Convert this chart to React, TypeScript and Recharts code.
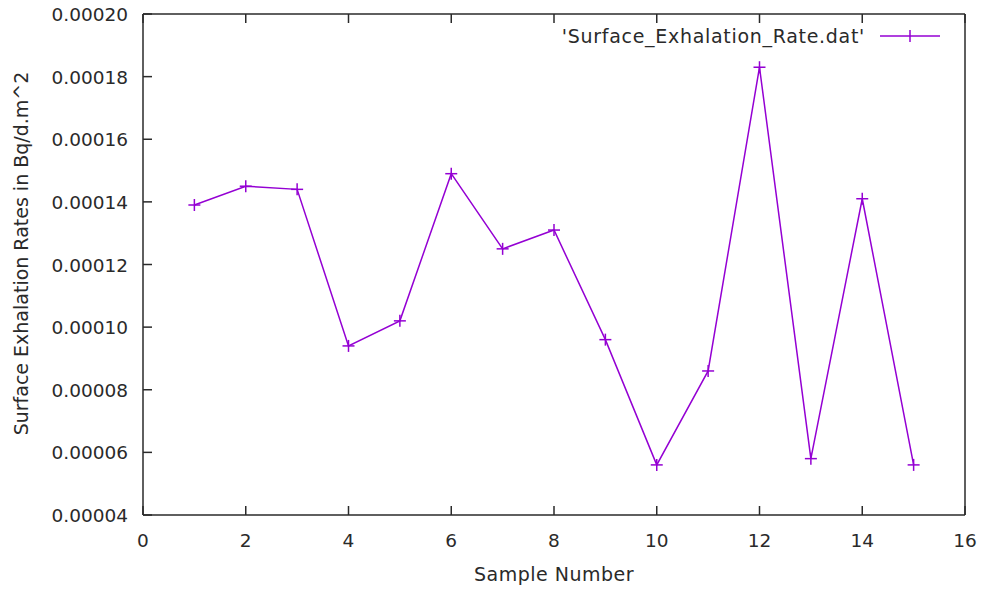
import React from 'react';
import { LineChart, Line, XAxis, YAxis } from 'recharts';

const samples = [1, 2, 3, 4, 5, 6, 7, 8, 9, 10, 11, 12, 13, 14, 15];
const rates = [
  0.000139, 0.000145, 0.000144, 0.000094, 0.000102, 0.000149, 0.000125, 0.000131,
  0.000096, 0.000056, 0.000086, 0.000183, 0.000058, 0.000141, 0.000056,
];
const xTicks = [0, 2, 4, 6, 8, 10, 12, 14, 16];
const yTicks = [0.00004, 0.00006, 0.00008, 0.0001, 0.00012, 0.00014, 0.00016, 0.00018, 0.0002];

const seriesName = "'Surface_Exhalation_Rate.dat'";
const PURPLE = '#9400D3';
const INK = '#2a2a2a';
const FONT = 'DejaVu Sans, sans-serif';
const TICK_FS = 18.5;
const LABEL_FS = 19;
const TICK_LEN = 9;

const data = samples.map((s, i) => ({ sample: s, rate: rates[i] }));

const PlusDot = (props: any) => {
  const { cx, cy } = props;
  if (cx == null || cy == null) return null;
  return (
    <g stroke={PURPLE} strokeWidth={1.5}>
      <line x1={cx - 6} y1={cy} x2={cx + 6} y2={cy} />
      <line x1={cx} y1={cy - 6} x2={cx} y2={cy + 6} />
    </g>
  );
};

// bottom axis: label + inward tick
const BottomTick = (props: any) => {
  const { x, y, payload } = props;
  const base = y - 25;
  return (
    <g>
      <line x1={x} y1={base} x2={x} y2={base - TICK_LEN} stroke={INK} strokeWidth={1.5} />
      <text x={x} y={y} dy={7} textAnchor="middle" fill={INK} fontSize={TICK_FS} fontFamily={FONT}>
        {payload.value}
      </text>
    </g>
  );
};

const TopTick = (props: any) => {
  const { x, y } = props;
  return <line x1={x} y1={y} x2={x} y2={y + TICK_LEN} stroke={INK} strokeWidth={1.5} />;
};

const LeftTick = (props: any) => {
  const { x, y, payload } = props;
  const base = x + 15;
  return (
    <g>
      <line x1={base} y1={y} x2={base + TICK_LEN} y2={y} stroke={INK} strokeWidth={1.5} />
      <text x={x} y={y} dy={7} textAnchor="end" fill={INK} fontSize={TICK_FS} fontFamily={FONT}>
        {payload.value.toFixed(5)}
      </text>
    </g>
  );
};

const RightTick = (props: any) => {
  const { x, y } = props;
  return <line x1={x} y1={y} x2={x - TICK_LEN} y2={y} stroke={INK} strokeWidth={1.5} />;
};

export default function App() {
  return (
    <div style={{ position: 'absolute', left: 0, top: 0, width: 983, height: 589, background: '#fff' }}>
      <LineChart
        width={983}
        height={589}
        data={data}
        margin={{ top: 13, right: 17, bottom: 73, left: 142 }}
      >
        <XAxis
          xAxisId="bottom"
          dataKey="sample"
          type="number"
          domain={[0, 16]}
          ticks={xTicks}
          height={1}
          tickSize={0}
          tickMargin={25}
          tickLine={false}
          tick={<BottomTick />}
          axisLine={{ stroke: INK, strokeWidth: 1.5 }}
          label={{
            content: (p: any) => {
              const vb = p.viewBox;
              return (
                <text
                  x={vb.x + vb.width / 2}
                  y={vb.y + 66}
                  textAnchor="middle"
                  fill={INK}
                  fontSize={LABEL_FS}
                  fontFamily={FONT}
                  letterSpacing={0.5}
                >
                  Sample Number
                </text>
              );
            },
          }}
        />
        <XAxis
          xAxisId="top"
          orientation="top"
          dataKey="sample"
          type="number"
          domain={[0, 16]}
          ticks={xTicks}
          height={1}
          tickSize={0}
          tickMargin={0}
          tickLine={false}
          tick={<TopTick />}
          axisLine={{ stroke: INK, strokeWidth: 1.5 }}
        />
        <YAxis
          yAxisId="left"
          type="number"
          domain={[0.00004, 0.0002]}
          ticks={yTicks}
          width={1}
          tickSize={0}
          tickMargin={15}
          tickLine={false}
          tick={<LeftTick />}
          axisLine={{ stroke: INK, strokeWidth: 1.5 }}
          label={{
            content: (p: any) => {
              const vb = p.viewBox;
              const cx = vb.x - 114;
              const cy = vb.y + vb.height / 2 - 11;
              return (
                <text
                  x={cx}
                  y={cy}
                  transform={`rotate(-90 ${cx} ${cy})`}
                  textAnchor="middle"
                  fill={INK}
                  fontSize={LABEL_FS}
                  fontFamily={FONT}
                >
                  Surface Exhalation Rates in Bq/d.m^2
                </text>
              );
            },
          }}
        />
        <YAxis
          yAxisId="right"
          orientation="right"
          type="number"
          domain={[0.00004, 0.0002]}
          ticks={yTicks}
          width={1}
          tickSize={0}
          tickMargin={0}
          tickLine={false}
          tick={<RightTick />}
          axisLine={{ stroke: INK, strokeWidth: 1.5 }}
        />
        <Line
          xAxisId="bottom"
          yAxisId="left"
          type="linear"
          dataKey="rate"
          name={seriesName}
          stroke={PURPLE}
          strokeWidth={1.5}
          dot={<PlusDot />}
          activeDot={false}
          isAnimationActive={false}
        />
      </LineChart>
      <div
        style={{
          position: 'absolute',
          top: 25,
          right: 42,
          display: 'flex',
          alignItems: 'center',
          fontFamily: FONT,
          fontSize: LABEL_FS,
          letterSpacing: 0.7,
          color: INK,
        }}
      >
        <span>{seriesName}</span>
        <svg width={62} height={16} style={{ marginLeft: 14 }}>
          <line x1={1} y1={8} x2={61} y2={8} stroke={PURPLE} strokeWidth={1.5} />
          <line x1={31} y1={2} x2={31} y2={14} stroke={PURPLE} strokeWidth={1.5} />
        </svg>
      </div>
    </div>
  );
}
